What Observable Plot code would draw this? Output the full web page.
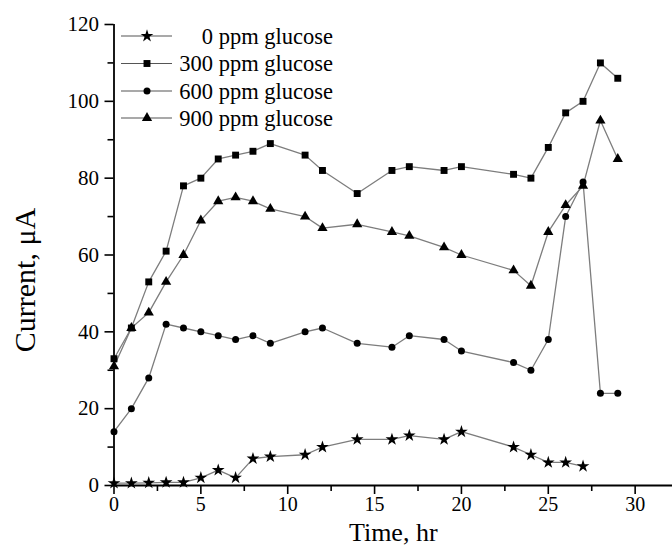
<!DOCTYPE html>
<html>
<head>
<meta charset="utf-8">
<script src="https://cdn.jsdelivr.net/npm/d3@7"></script>
<script src="https://cdn.jsdelivr.net/npm/@observablehq/plot@0.6"></script>
<style>
  html, body { margin: 0; padding: 0; background: #fff; }
  #wrap { position: relative; width: 672px; height: 547px; overflow: hidden; }
  #legend { position: absolute; left: 0; top: 0; }
  svg text { font-family: "Liberation Serif", "Times New Roman", serif !important; }
</style>
</head>
<body>
<div id="wrap"></div>
<script>
// ---- data ----
const seriesNames = ["0 ppm glucose", "300 ppm glucose", "600 ppm glucose", "900 ppm glucose"];
const seriesSymbols = ["star", "square", "circle", "triangle"];

const hours0 = [0, 1, 2, 3, 4, 5, 6, 7, 8, 9, 11, 12, 14, 16, 17, 19, 20, 23, 24, 25, 26, 27];
const current0 = [0.6, 0.6, 0.7, 0.8, 0.8, 2, 4, 2, 7, 7.5, 8, 10, 12, 12, 13, 12, 14, 10, 8, 6, 6, 5];

const hours300 = [0, 1, 2, 3, 4, 5, 6, 7, 8, 9, 11, 12, 14, 16, 17, 19, 20, 23, 24, 25, 26, 27, 28, 29];
const current300 = [33, 41, 53, 61, 78, 80, 85, 86, 87, 89, 86, 82, 76, 82, 83, 82, 83, 81, 80, 88, 97, 100, 110, 106];

const hours600 = [0, 1, 2, 3, 4, 5, 6, 7, 8, 9, 11, 12, 14, 16, 17, 19, 20, 23, 24, 25, 26, 27, 28, 29];
const current600 = [14, 20, 28, 42, 41, 40, 39, 38, 39, 37, 40, 41, 37, 36, 39, 38, 35, 32, 30, 38, 70, 79, 24, 24];

const hours900 = [0, 1, 2, 3, 4, 5, 6, 7, 8, 9, 11, 12, 14, 16, 17, 19, 20, 23, 24, 25, 26, 27, 28, 29];
const current900 = [31, 41, 45, 53, 60, 69, 74, 75, 74, 72, 70, 67, 68, 66, 65, 62, 60, 56, 52, 66, 73, 78, 95, 85];

const xMajorTicks = [0, 5, 10, 15, 20, 25, 30];
const xMinorTicks = [2.5, 7.5, 12.5, 17.5, 22.5, 27.5];
const yMajorTicks = [0, 20, 40, 60, 80, 100, 120];
const yMinorTicks = [10, 30, 50, 70, 90, 110];

const xTitle = "Time, hr";
const yTitle = "Current, μA";

// ---- build table ----
const hoursAll = [hours0, hours300, hours600, hours900];
const currentAll = [current0, current300, current600, current900];
const data = seriesNames.flatMap((name, s) =>
  hoursAll[s].map((h, i) => ({series: name, hour: h, current: currentAll[s][i]}))
);

const symbolR = {star: 4, square: 3.9, circle: 3.5, triangle: 3.8};
const font = "Liberation Serif";

const chart = Plot.plot({
  width: 672,
  height: 547,
  marginLeft: 113.5,
  marginRight: 0,
  marginTop: 24,
  marginBottom: 62,
  style: {fontFamily: font, fontSize: "20px", color: "#000", background: "#fff"},
  x: {domain: [0, 32.15]},
  y: {domain: [0, 120]},
  marks: [
    Plot.line(data, {x: "hour", y: "current", z: "series", stroke: "#7d7d7d", strokeWidth: 1.3}),
    ...seriesNames.map((name, s) =>
      Plot.dot(data.filter(d => d.series === name), {
        x: "hour", y: "current", symbol: seriesSymbols[s], fill: "#000", stroke: "none",
        r: symbolR[seriesSymbols[s]]
      })
    ),
    Plot.axisX({ticks: xMajorTicks, tickSize: 9, tickPadding: 2, strokeWidth: 1.6, label: null, fontSize: 20, fontFamily: font}),
    Plot.axisX({ticks: xMinorTicks, tickSize: 6, strokeWidth: 1.6, tickFormat: () => "", label: null}),
    Plot.axisY({ticks: yMajorTicks, tickSize: 9, tickPadding: 6, strokeWidth: 1.6, label: null, fontSize: 21, fontFamily: font}),
    Plot.axisY({ticks: yMinorTicks, tickSize: 6, strokeWidth: 1.6, tickFormat: () => "", label: null}),
    Plot.ruleX([0], {strokeWidth: 1.8}),
    Plot.ruleY([0], {strokeWidth: 1.8}),
    Plot.text([xTitle], {frameAnchor: "bottom", dy: 47, fontSize: 26, lineAnchor: "middle", textAnchor: "middle", fontFamily: font}),
    Plot.text([yTitle], {frameAnchor: "left", rotate: -90, dx: -89, dy: 25, fontSize: 30, lineAnchor: "middle", textAnchor: "middle", fontFamily: font})
  ]
});

const wrap = document.getElementById("wrap");
wrap.appendChild(chart);

// ---- legend overlay ----
const legendRows = [36, 63.5, 91, 118];
const svg = d3.select(wrap).append("svg")
  .attr("id", "legend").attr("width", 672).attr("height", 140);
const d3Sym = {star: d3.symbolStar, square: d3.symbolSquare, circle: d3.symbolCircle, triangle: d3.symbolTriangle};
seriesNames.forEach((name, s) => {
  const g = svg.append("g").attr("transform", `translate(0,${legendRows[s]})`);
  g.append("line").attr("x1", 121).attr("x2", 172).attr("y1", 0).attr("y2", 0)
    .attr("stroke", "#555").attr("stroke-width", 1.2);
  const r = symbolR[seriesSymbols[s]];
  g.append("path").attr("transform", "translate(147,0)")
    .attr("d", d3.symbol(d3Sym[seriesSymbols[s]], Math.PI * r * r)()).attr("fill", "#000");
  g.append("text").attr("x", 333).attr("y", 0).attr("dy", "0.35em")
    .attr("font-family", font)
    .attr("text-anchor", "end").attr("font-size", 22.5).attr("fill", "#000").text(name);
});
</script>
</body>
</html>
